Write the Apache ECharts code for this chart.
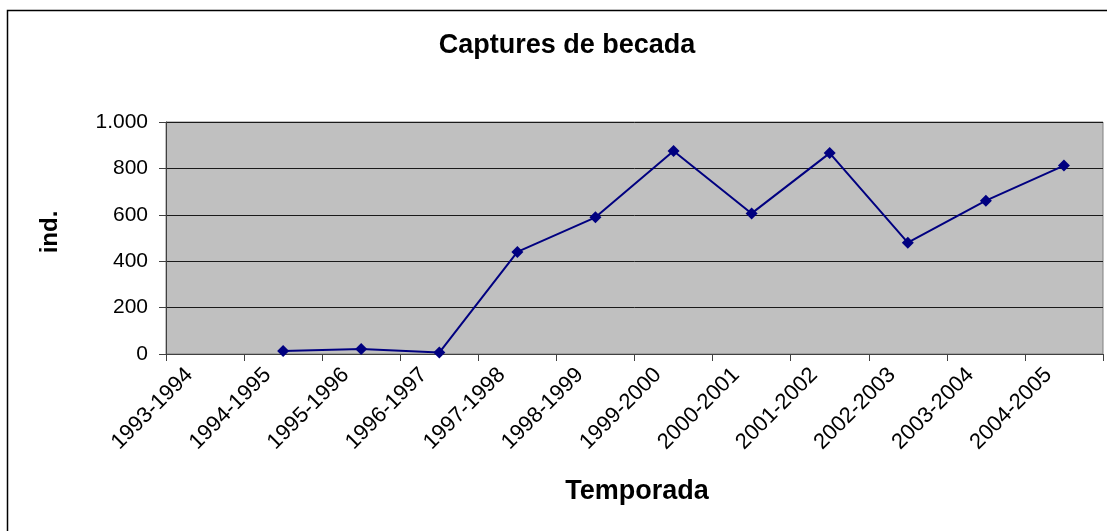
<!DOCTYPE html>
<html>
<head>
<meta charset="utf-8">
<title>Captures de becada</title>
<script src="https://cdn.jsdelivr.net/npm/echarts@6/dist/echarts.min.js"></script>
<style>
  html, body { margin: 0; padding: 0; background: #fff; }
  #chart { width: 1107px; height: 531px; }
</style>
</head>
<body>
<div id="chart"></div>
<script>
// dades
var temporades = ['1993-1994', '1994-1995', '1995-1996', '1996-1997', '1997-1998', '1998-1999',
                  '1999-2000', '2000-2001', '2001-2002', '2002-2003', '2003-2004', '2004-2005'];
var captures = [null, 13, 22, 6, 440, 589, 875, 606, 866, 480, 661, 812];
var yTicks = [0, 200, 400, 600, 800, 1000];

var font = 'Liberation Sans, Arial, sans-serif';

function milers(v) {
  return String(v).replace(/\B(?=(\d{3})+(?!\d))/g, '.');
}

var myChart = echarts.init(document.getElementById('chart'));
myChart.setOption({
  animation: false,
  backgroundColor: '#ffffff',
  grid: {
    left: 166,
    top: 122,
    width: 937,
    height: 232,
    show: true,
    backgroundColor: '#C0C0C0',
    borderColor: '#808080',
    borderWidth: 1
  },
  xAxis: {
    type: 'category',
    data: temporades,
    boundaryGap: true,
    axisLine: { lineStyle: { color: '#404040', width: 1 } },
    axisTick: { show: true, length: 7, alignWithLabel: false, lineStyle: { color: '#404040' } },
    axisLabel: {
      interval: 0,
      rotate: 45,
      margin: 2,
      color: '#000',
      fontFamily: font,
      fontSize: 22,
      // espai buit al final per desplaçar l'etiqueta cap a l'esquerra
      formatter: function (v) { return '{t|' + v + '}{s|}'; },
      rich: {
        t: { fontFamily: font, fontSize: 22, color: '#000' },
        s: { width: 22 }
      }
    },
    splitLine: { show: false }
  },
  yAxis: {
    type: 'value',
    min: yTicks[0],
    max: yTicks[yTicks.length - 1],
    interval: 200,
    axisLine: { show: true, lineStyle: { color: '#404040', width: 1 } },
    axisTick: { show: true, length: 7, lineStyle: { color: '#404040' } },
    axisLabel: {
      margin: 18,
      color: '#000',
      fontFamily: font,
      fontSize: 21,
      formatter: function (v) { return milers(v); }
    },
    splitLine: { show: true, lineStyle: { color: '#1a1a1a', width: 1 } }
  },
  series: [{
    name: 'Captures',
    type: 'line',
    data: captures,
    symbol: 'diamond',
    symbolSize: 12,
    color: '#000080',
    lineStyle: { color: '#000080', width: 2 },
    itemStyle: { color: '#000080' }
  }],
  graphic: [
    {
      type: 'rect',
      silent: true,
      shape: { x: 7.5, y: 10.5, width: 1120, height: 540 },
      style: { fill: 'none', stroke: '#000', lineWidth: 1.5 }
    },
    {
      type: 'text',
      x: 567, y: 46,
      style: {
        text: 'Captures de becada',
        textAlign: 'center', textVerticalAlign: 'middle',
        font: 'bold 27px ' + font, fill: '#000'
      }
    },
    {
      type: 'text',
      x: 50, y: 232,
      rotation: Math.PI / 2,
      style: {
        text: 'ind.',
        textAlign: 'center', textVerticalAlign: 'middle',
        font: 'bold 24px ' + font, fill: '#000'
      }
    },
    {
      type: 'text',
      x: 637, y: 492,
      style: {
        text: 'Temporada',
        textAlign: 'center', textVerticalAlign: 'middle',
        font: 'bold 27px ' + font, fill: '#000'
      }
    }
  ]
});
</script>
</body>
</html>
